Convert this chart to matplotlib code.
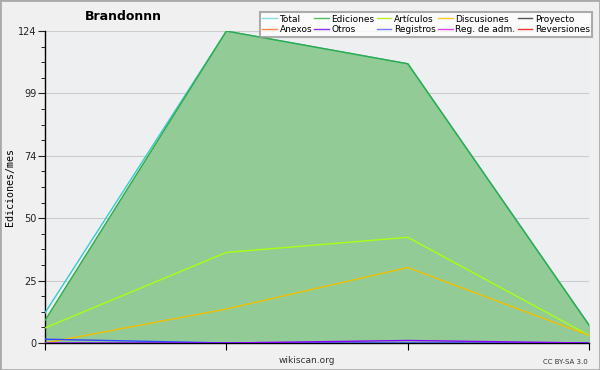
import numpy as np
import matplotlib
matplotlib.use("Agg")
import matplotlib.pyplot as plt
from matplotlib.patches import Rectangle
from matplotlib.ticker import FixedLocator, MultipleLocator

months = [0, 1, 2, 3]
total = [12, 124, 111, 7]
ediciones = [9, 124, 111, 7]
articulos = [6, 36, 42, 3]
discusiones = [0, 13.5, 30, 3]
registros = [1.5, 0, 0, 0]
otros = [0, 0, 1, 0]

legend_names = ["Total", "Anexos", "Ediciones", "Otros", "Artículos", "Registros",
                "Discusiones", "Reg. de adm.", "Proyecto", "Reversiones"]
legend_colors = ["#88dddd", "#ff8844", "#55bb66", "#8833ee", "#bbee22", "#7777ff",
                 "#ffcc22", "#dd44ee", "#555555", "#ee3333"]

yticks = [0, 24.8, 49.6, 74.4, 99.2, 124]
yticklabels = ["0", "25", "50", "74", "99", "124"]

fig = plt.figure(figsize=(6, 3.7), dpi=100, facecolor="#f0f0f0")
ax = fig.add_axes([0.075, 0.073, 0.907, 0.843], facecolor="#eeeff1")

ax.fill_between(months, ediciones, color="#93cb97", zorder=2)
ax.plot(months, total, color="#33cccc", lw=1, zorder=3)
ax.plot(months, ediciones, color="#33aa44", lw=1, zorder=4)
ax.plot(months, articulos, color="#aaff11", lw=1, zorder=4)
ax.plot(months, discusiones, color="#f0c000", lw=1, zorder=4)
ax.plot(months, registros, color="#3344ff", lw=1, zorder=4)
ax.plot(months, otros, color="#8800ff", lw=1, zorder=4)

ax.set_xlim(0, 3)
ax.set_ylim(0, 124)
ax.yaxis.set_major_locator(FixedLocator(yticks))
ax.set_yticklabels(yticklabels)
ax.yaxis.set_minor_locator(MultipleLocator(6.2))
ax.set_xticks(months)
ax.set_xticklabels([])
ax.tick_params(axis="y", which="major", length=5, labelsize=7, colors="#222222", pad=1)
ax.tick_params(axis="y", which="minor", length=3)
ax.tick_params(axis="x", length=5)
ax.grid(axis="y", color="#cccccc", lw=0.8, zorder=1)
for s in ["top", "right"]:
    ax.spines[s].set_visible(False)
ax.spines["left"].set_linewidth(1)
ax.spines["bottom"].set_linewidth(1)

ax.set_ylabel("Ediciones/mes", family="DejaVu Sans Mono", fontsize=7.2)
ax.yaxis.set_label_coords(-0.055, 0.5)

fig.text(0.142, 0.955, "Brandonnn", fontsize=9, fontweight="bold", ha="left", va="center")
fig.text(0.512, 0.027, "wikiscan.org", fontsize=6.5, color="#333333", ha="center", va="center")
fig.text(0.98, 0.022, "CC BY-SA 3.0", fontsize=5, color="#333333", ha="right", va="center")

handles = [plt.Line2D([], [], color=c, lw=1) for c in legend_colors]
leg = fig.legend(handles, legend_names, ncol=5, loc="upper right",
                 bbox_to_anchor=(0.995, 0.98), fontsize=6.5, frameon=True,
                 fancybox=False, handlelength=1.6, handletextpad=0.3,
                 columnspacing=0.25, labelspacing=0.15, borderpad=0.3)
leg.get_frame().set_edgecolor("#999999")
leg.get_frame().set_linewidth(1.5)
leg.set_zorder(10)

fig.patches.append(Rectangle((0, 0), 1, 1, transform=fig.transFigure, fill=False,
                             edgecolor="#aaaaaa", lw=2))

fig.savefig("out.png", dpi=100, facecolor=fig.get_facecolor())
